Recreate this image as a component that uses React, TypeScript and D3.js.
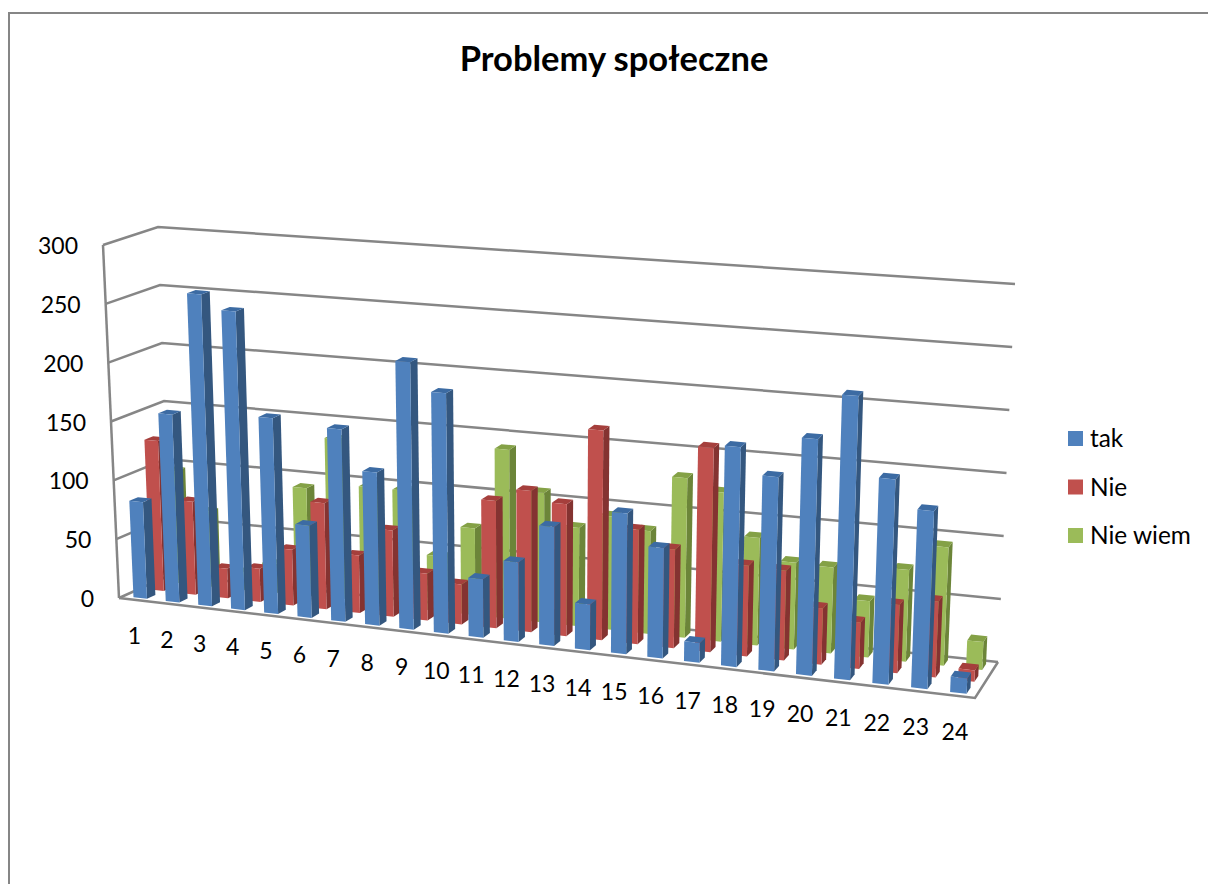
import { useEffect, useRef } from 'react'
import * as d3 from 'd3'

const categories = d3.range(1, 25).map(String)
const seriesNames = ['tak', 'Nie', 'Nie wiem']
const yTicks = [0, 50, 100, 150, 200, 250, 300]

const takValues = [82, 159, 263, 251, 164, 77, 160, 127, 221, 198, 48, 65, 97, 37, 114, 89, 16, 176, 155, 188, 225, 162, 140, 12]
const nieValues = [128, 79, 25, 28, 47, 89, 48, 72, 39, 33, 105, 116, 108, 171, 93, 80, 165, 73, 72, 45, 37, 54, 60, 9]
const nieWiemValues = [96, 64, 15, 25, 92, 136, 98, 98, 46, 72, 140, 107, 81, 93, 84, 130, 121, 87, 70, 69, 45, 73, 94, 22]
const seriesValues = [takValues, nieValues, nieWiemValues]

const colors = [
    { front: '#4f81bd', side: '#34577f', top: '#3c6ba3' },
    { front: '#c0504d', side: '#843331', top: '#a53f3c' },
    { front: '#9bbb59', side: '#6c8539', top: '#84a146' },
]

const font = 'Lato, "Noto Sans", sans-serif'
const gridColor = '#868686'

type Pt = [number, number]

// corners: front left, front right, back right, back left
const quadMap = (p0: Pt, p1: Pt, p2: Pt, p3: Pt) => (u: number, v: number): Pt => {
    const x = (1 - v) * ((1 - u) * p0[0] + u * p1[0]) + v * ((1 - u) * p3[0] + u * p2[0])
    const y = (1 - v) * ((1 - u) * p0[1] + u * p1[1]) + v * ((1 - u) * p3[1] + u * p2[1])
    return [x, y]
}

const floor = quadMap([119, 598], [975, 698], [998, 662], [170, 575])
const ceiling = quadMap([103, 245], [991, 314], [1015, 284], [158, 227])

// categories get a bit wider towards the right
const warp = (u: number) => u / (u + (1 - u) * 1.11)

const height = d3.scaleLinear().domain([0, 300]).range([0, 1])
const catBand = d3.scaleBand<string>().domain(categories).range([0, 1]).paddingInner(0.58).paddingOuter(0.29).align(0.55)
const depthBand = d3.scaleBand<string>().domain(seriesNames).range([0, 1]).paddingInner(0.5).paddingOuter(0.25)

// category fraction, depth fraction, value
const project = (u: number, v: number, val: number): Pt => {
    const t = height(val)
    const a = floor(warp(u), v)
    const b = ceiling(warp(u), v)
    return [a[0] + (b[0] - a[0]) * t, a[1] + (b[1] - a[1]) * t]
}

const line = d3.line()
const poly = (pts: Pt[]) => line(pts) + 'Z'

const App = () => {
    const ref = useRef<SVGSVGElement>(null)

    useEffect(() => {
        const svg = d3.select(ref.current)
        svg.selectAll('*').remove()

        // Chart frame
        svg.append('rect')
            .attr('x', 9)
            .attr('y', 13)
            .attr('width', 1300)
            .attr('height', 1000)
            .attr('fill', 'white')
            .attr('stroke', gridColor)
            .attr('stroke-width', 2)

        // Title
        svg.append('text')
            .attr('x', 614)
            .attr('y', 71)
            .attr('text-anchor', 'middle')
            .attr('font-family', font)
            .attr('font-weight', 'bold')
            .attr('font-size', 34.5)
            .text('Problemy społeczne')

        // Gridlines on side and back wall
        const grid = svg.append('g').attr('fill', 'none').attr('stroke', gridColor).attr('stroke-width', 2.5)
        yTicks.forEach(t => {
            grid.append('path').attr('d', line([project(0, 0, t), project(0, 1, t), project(1, 1, t)]))
        })
        grid.append('path').attr('d', line([project(0, 0, 0), project(0, 0, 300)]))
        grid.append('path').attr('d', line([project(0, 0, 0), project(1, 0, 0), project(1, 1, 0)]))

        // Y labels
        svg.append('g')
            .selectAll('text')
            .data(yTicks)
            .join('text')
            .attr('x', t => project(0, 0, t)[0] - 25)
            .attr('y', t => project(0, 0, t)[1] + 9)
            .attr('text-anchor', 'end')
            .attr('font-family', font)
            .attr('font-size', 23)
            .text(t => t)

        // Bars, back row first
        d3.range(seriesNames.length - 1, -1, -1).forEach(s => {
            const v0 = depthBand(seriesNames[s])!
            const v1 = v0 + depthBand.bandwidth()
            const g = svg.append('g')
            categories.forEach((c, i) => {
                const u0 = catBand(c)!
                const u1 = u0 + catBand.bandwidth()
                const val = seriesValues[s][i]
                const col = colors[s]
                g.append('path')
                    .attr('d', poly([project(u1, v0, 0), project(u1, v1, 0), project(u1, v1, val), project(u1, v0, val)]))
                    .attr('fill', col.side)
                g.append('path')
                    .attr('d', poly([project(u0, v0, val), project(u1, v0, val), project(u1, v1, val), project(u0, v1, val)]))
                    .attr('fill', col.top)
                g.append('path')
                    .attr('d', poly([project(u0, v0, 0), project(u1, v0, 0), project(u1, v0, val), project(u0, v0, val)]))
                    .attr('fill', col.front)
            })
        })

        // Category labels
        svg.append('g')
            .selectAll('text')
            .data(categories)
            .join('text')
            .attr('x', c => project(catBand(c)! + catBand.bandwidth() / 2, 0, 0)[0] - 1.5)
            .attr('y', c => project(catBand(c)! + catBand.bandwidth() / 2, 0, 0)[1] + 44)
            .attr('text-anchor', 'middle')
            .attr('font-family', font)
            .attr('font-size', 23)
            .text(c => c)

        // Legend
        const legend = svg.append('g')
            .selectAll('g')
            .data(seriesNames)
            .join('g')
            .attr('transform', (d, i) => `translate(1068,${431 + i * 48.5})`)
        legend.append('rect')
            .attr('width', 15)
            .attr('height', 15)
            .attr('fill', (d, i) => colors[i].front)
        legend.append('text')
            .attr('x', 22)
            .attr('y', 16)
            .attr('font-family', font)
            .attr('font-size', 24.4)
            .text(d => d)
    }, [])

    return <svg ref={ref} width={1208} height={884} style={{ position: 'absolute', left: 0, top: 0, display: 'block' }} />
}

export default App
